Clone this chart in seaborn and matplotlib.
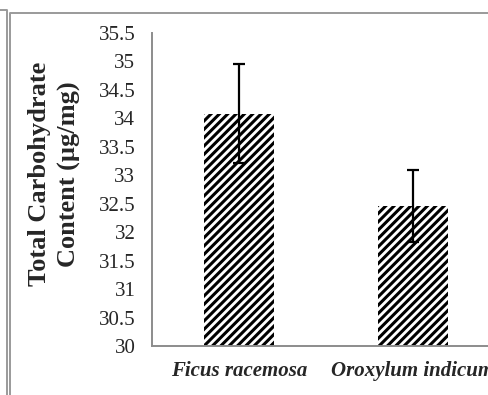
import matplotlib
matplotlib.use("Agg")
import matplotlib.pyplot as plt
import seaborn as sns
import pandas as pd
from matplotlib.lines import Line2D

species = ["Ficus racemosa", "Oroxylum indicum"]
carbohydrate = [34.08, 32.46]
errors = [0.87, 0.63]
y_ticks = [30, 30.5, 31, 31.5, 32, 32.5, 33, 33.5, 34, 34.5, 35, 35.5]
y_tick_labels = ["30", "30.5", "31", "31.5", "32", "32.5", "33", "33.5", "34", "34.5", "35", "35.5"]

sns.set_style("white")
plt.rcParams['font.family'] = ['Liberation Serif', 'DejaVu Serif']
plt.rcParams['hatch.linewidth'] = 2.2
plt.rcParams['hatch.color'] = 'black'

df = pd.DataFrame({"species": species, "value": carbohydrate})

W, H = 488, 395
fig = plt.figure(figsize=(W / 100, H / 100), dpi=100)
ax = fig.add_axes([152 / W, 1 - 346 / H, (500 - 152) / W, (346 - 33) / H])

sns.barplot(data=df, x="species", y="value", ax=ax, color="white",
            width=0.4, errorbar=None, edgecolor="black", linewidth=0)
for p in ax.patches:
    p.set_hatch("////")
    p.set_edgecolor("black")
    p.set_linewidth(0)

ax.errorbar(x=range(len(species)), y=carbohydrate, yerr=errors, fmt="none",
            ecolor="black", elinewidth=1.6, capsize=4.5, capthick=1.6, zorder=5)

ax.set_ylim(30, 35.5)
ax.set_xlim(-0.5, 1.5)
ax.set_yticks(y_ticks)
ax.set_yticklabels(y_tick_labels, fontsize=15)
ax.set_xticks(range(len(species)))
ax.set_xticklabels(species, fontsize=15, fontweight="bold", fontstyle="italic")
ax.set_xticks([-0.5, 0.5, 1.5], minor=True)
ax.tick_params(axis="x", which="major", length=0, pad=11)
ax.tick_params(axis="x", which="minor", length=5, width=1.2, color="#8c8c8c", direction="out")
ax.tick_params(axis="y", which="major", length=5, width=1.2, color="#8c8c8c", direction="out", pad=7)
ax.set_xlabel("")
ax.set_ylabel("")
for s in ["top", "right"]:
    ax.spines[s].set_visible(False)
for s in ["left", "bottom"]:
    ax.spines[s].set_color("#8c8c8c")
    ax.spines[s].set_linewidth(1.4)

fig.text(54.5 / W, 1 - 174 / H, "Total Carbohydrate\nContent (µg/mg)", rotation=90,
         ha="center", va="center", fontsize=19, fontweight="bold", linespacing=1.4,
         multialignment="center")

# outer frame lines (figure pixel coordinates)
def px(xs, ys):
    return [x / W for x in xs], [1 - y / H for y in ys]

for xs, ys in [([0, 6.5, 6.5], [9.5, 9.5, 395]), ([9.5, 9.5, 488], [395, 13, 13])]:
    fx, fy = px(xs, ys)
    fig.add_artist(Line2D(fx, fy, transform=fig.transFigure, color="#9a9a9a", linewidth=1.4))

fig.savefig("out.png", dpi=100)
